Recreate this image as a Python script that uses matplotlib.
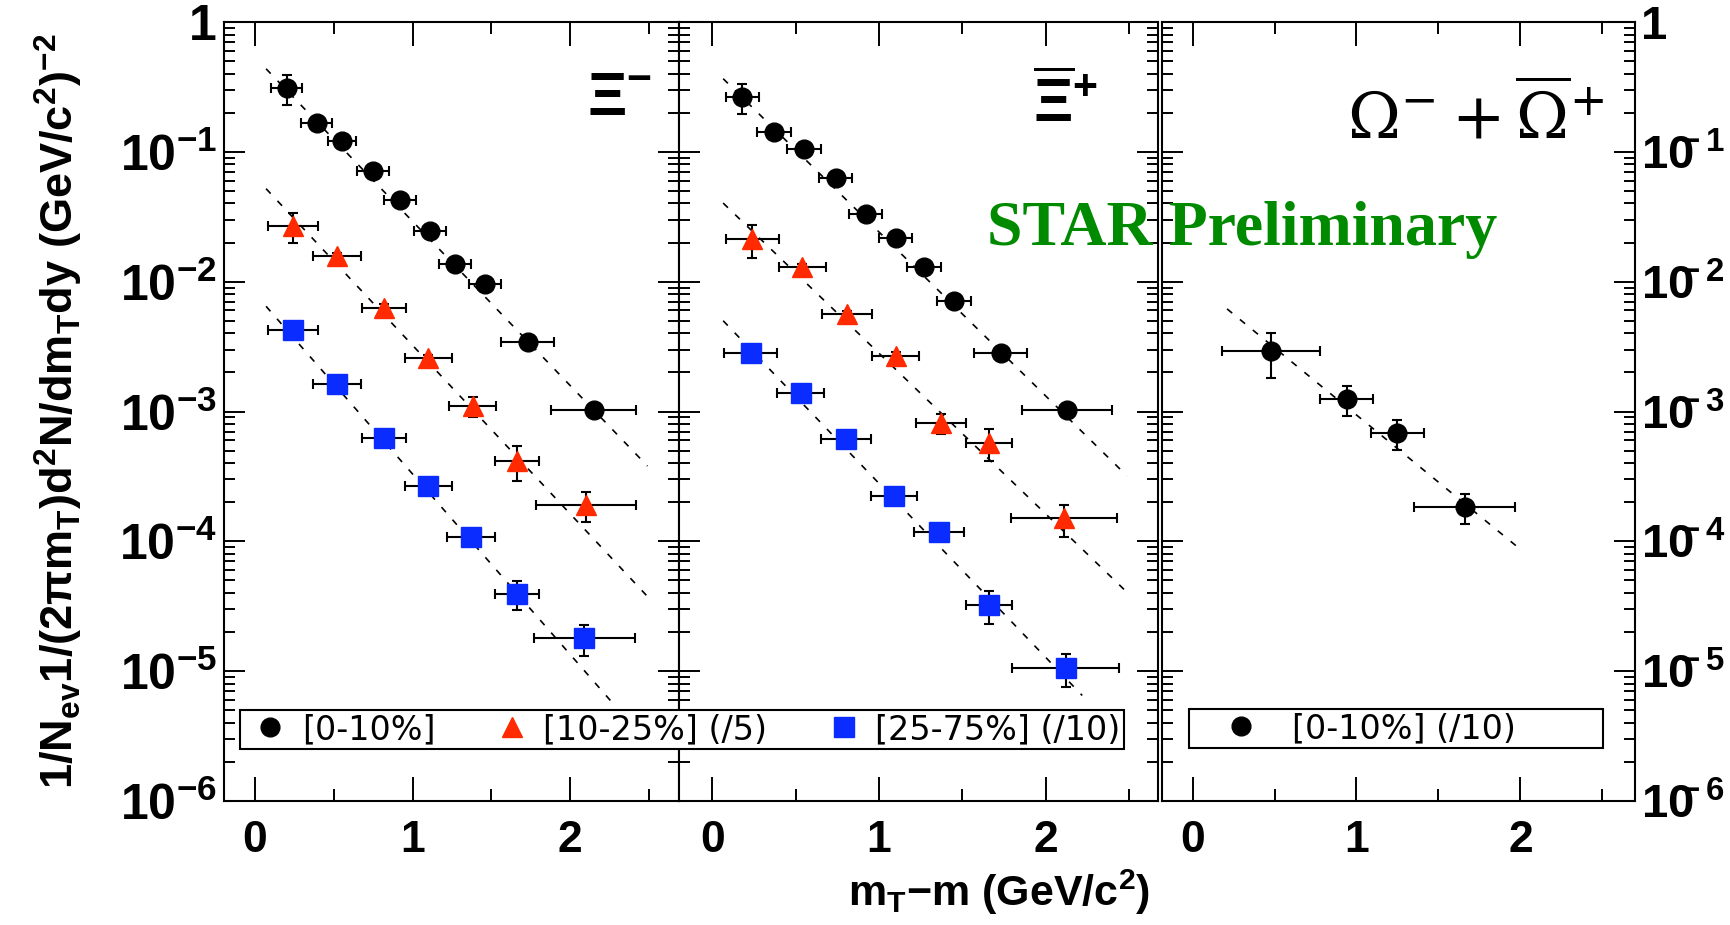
import numpy as np
import matplotlib
matplotlib.use("Agg")
import matplotlib.pyplot as plt
from matplotlib.ticker import (LogLocator, FixedLocator, FuncFormatter,
                               NullFormatter)
from matplotlib.lines import Line2D

plt.rcParams["font.family"] = ["Liberation Sans", "DejaVu Sans"]
plt.rcParams["font.weight"] = "bold"
plt.rcParams["mathtext.fontset"] = "custom"
plt.rcParams["mathtext.rm"] = "Liberation Sans"
plt.rcParams["mathtext.bf"] = "Liberation Sans:bold"
plt.rcParams["mathtext.it"] = "Liberation Sans:italic"
plt.rcParams["mathtext.default"] = "bf"

# ---- Xi- panel ----  (rel = relative y error)
xim_c0_x = [0.20, 0.39, 0.55, 0.75, 0.92, 1.11, 1.27, 1.46, 1.73, 2.15]
xim_c0_xerr = [0.10, 0.10, 0.09, 0.10, 0.10, 0.10, 0.10, 0.10, 0.17, 0.27]
xim_c0_y = [0.310, 0.166, 0.121, 0.0714, 0.0422, 0.0244, 0.0136, 0.0096, 0.00342, 0.00102]
xim_c0_rel = [0.26, 0.05, 0.05, 0.05, 0.05, 0.05, 0.05, 0.05, 0.06, 0.06]

xim_c1_x = [0.24, 0.52, 0.82, 1.10, 1.38, 1.66, 2.10]
xim_c1_xerr = [0.16, 0.15, 0.14, 0.15, 0.15, 0.14, 0.32]
xim_c1_y = [0.0270, 0.0158, 0.0063, 0.00256, 0.00110, 4.17e-4, 1.89e-4]
xim_c1_rel = [0.26, 0.06, 0.06, 0.06, 0.17, 0.30, 0.26]

xim_c2_x = [0.24, 0.52, 0.82, 1.10, 1.37, 1.66, 2.09]
xim_c2_xerr = [0.16, 0.15, 0.14, 0.15, 0.15, 0.14, 0.32]
xim_c2_y = [0.00426, 0.00163, 6.26e-4, 2.65e-4, 1.08e-4, 3.94e-5, 1.79e-5]
xim_c2_rel = [0.05, 0.05, 0.06, 0.06, 0.08, 0.25, 0.27]

# fit lines (start / end)
xim_fit_x = [0.07, 2.49]
xim_c0_fit = [0.436, 3.8e-4]
xim_c1_fit = [0.052, 3.76e-5]
xim_c2_fit_x = [0.07, 2.27]
xim_c2_fit = [6.46e-3, 5.66e-6]

# ---- anti-Xi+ panel ----
xip_c0_x = [0.18, 0.37, 0.55, 0.74, 0.92, 1.10, 1.27, 1.45, 1.73, 2.13]
xip_c0_xerr = [0.10, 0.10, 0.10, 0.10, 0.10, 0.10, 0.10, 0.10, 0.16, 0.27]
xip_c0_y = [0.265, 0.142, 0.106, 0.0624, 0.0333, 0.0217, 0.0130, 0.0071, 0.00283, 0.00102]
xip_c0_rel = [0.26, 0.05, 0.05, 0.05, 0.05, 0.05, 0.05, 0.05, 0.06, 0.06]

xip_c1_x = [0.24, 0.54, 0.81, 1.10, 1.37, 1.66, 2.11]
xip_c1_xerr = [0.16, 0.14, 0.15, 0.14, 0.15, 0.14, 0.32]
xip_c1_y = [0.0213, 0.0129, 0.00562, 0.00269, 8.15e-4, 5.77e-4, 1.50e-4]
xip_c1_rel = [0.28, 0.06, 0.06, 0.06, 0.17, 0.28, 0.28]

xip_c2_x = [0.23, 0.53, 0.80, 1.09, 1.36, 1.66, 2.12]
xip_c2_xerr = [0.16, 0.14, 0.15, 0.14, 0.15, 0.14, 0.32]
xip_c2_y = [0.00283, 0.00140, 6.15e-4, 2.22e-4, 1.19e-4, 3.21e-5, 1.05e-5]
xip_c2_rel = [0.06, 0.05, 0.05, 0.06, 0.08, 0.28, 0.28]

xip_fit_x = [0.065, 2.49]
xip_c0_fit = [0.366, 3.18e-4]
xip_c1_fit = [0.0403, 4.04e-5]
xip_c2_fit_x = [0.065, 2.22]
xip_c2_fit = [5.0e-3, 6.5e-6]

# ---- Omega panel ----
om_x = [0.48, 0.94, 1.25, 1.66]
om_xerr = [0.30, 0.16, 0.16, 0.31]
om_y = [0.00294, 0.00124, 6.78e-4, 1.83e-4]
om_rel = [0.38, 0.26, 0.26, 0.26]
om_fit_x = [0.21, 1.99]
om_fit = [0.00617, 8.9e-5]

y_decades = [1e-6, 1e-5, 1e-4, 1e-3, 1e-2, 1e-1, 1]
cent_labels = ["[0-10%]", "[10-25%] (/5)", "[25-75%] (/10)"]
om_label = "[0-10%] (/10)"

RED = "#ff2a00"
BLUE = "#0a2cff"

fig = plt.figure(figsize=(17.3, 9.25), dpi=100)
bot, hgt = 124 / 925, 779 / 925
ax1 = fig.add_axes([224 / 1730, bot, 455 / 1730, hgt])
ax2 = fig.add_axes([679 / 1730, bot, 479 / 1730, hgt])
ax3 = fig.add_axes([1162 / 1730, bot, 473 / 1730, hgt])


def ylab(v, pos):
    e = int(round(np.log10(v)))
    return "1" if e == 0 else r"$10^{%d}$" % e


def ylab_right(v, pos):
    # ROOT squeezes the exponent over the "0" on the right-hand axis
    e = int(round(np.log10(v)))
    return "1" if e == 0 else r"$10^{\!\!\!\!%d}$" % e


def setup(ax, xlim):
    ax.set_yscale("log")
    ax.set_ylim(1e-6, 1)
    ax.set_xlim(*xlim)
    ax.xaxis.set_major_locator(FixedLocator([0, 1, 2]))
    ax.xaxis.set_minor_locator(FixedLocator([0.5, 1.5, 2.5]))
    ax.xaxis.set_major_formatter(FuncFormatter(lambda v, p: "%g" % v))
    ax.yaxis.set_major_locator(FixedLocator(y_decades))
    ax.yaxis.set_minor_locator(LogLocator(base=10, subs=np.arange(2, 10), numticks=20))
    ax.yaxis.set_major_formatter(FuncFormatter(ylab))
    ax.yaxis.set_minor_formatter(NullFormatter())
    ax.tick_params(which="both", direction="in", top=True, right=True, width=1.4)
    ax.tick_params(axis="x", which="major", length=17, labelsize=32, pad=14)
    ax.tick_params(axis="x", which="minor", length=8.5)
    ax.tick_params(axis="y", which="major", length=15, labelsize=36, pad=5)
    ax.tick_params(axis="y", which="minor", length=8)
    for s in ax.spines.values():
        s.set_linewidth(1.5)


def draw(ax, x, xerr, y, rel, marker, color, ms):
    y = np.array(y)
    dy = y * np.array(rel)
    ax.errorbar(x, y, xerr=xerr, yerr=[dy, dy], fmt=marker, ms=ms, color=color,
                mec=color, ecolor="black", elinewidth=1.5, capsize=3.6,
                capthick=1.5, zorder=3)


def fit(ax, x, y):
    ax.plot(x, y, color="black", lw=1.2, ls=(0, (4, 6)), zorder=2)


setup(ax1, (-0.197, 2.69))
setup(ax2, (-0.20, 2.675))
setup(ax3, (-0.187, 2.70))
ax1.tick_params(axis="y", labelleft=True, labelright=False)
ax2.tick_params(axis="y", labelleft=False, labelright=False)
ax3.tick_params(axis="y", which="major", labelleft=False, labelright=True,
                pad=4, labelsize=34)
ax3.yaxis.set_major_formatter(FuncFormatter(ylab_right))

fit(ax1, xim_fit_x, xim_c0_fit)
fit(ax1, xim_fit_x, xim_c1_fit)
fit(ax1, xim_c2_fit_x, xim_c2_fit)
draw(ax1, xim_c0_x, xim_c0_xerr, xim_c0_y, xim_c0_rel, "o", "black", 13.5)
draw(ax1, xim_c1_x, xim_c1_xerr, xim_c1_y, xim_c1_rel, "^", RED, 14)
draw(ax1, xim_c2_x, xim_c2_xerr, xim_c2_y, xim_c2_rel, "s", BLUE, 14.5)

fit(ax2, xip_fit_x, xip_c0_fit)
fit(ax2, xip_fit_x, xip_c1_fit)
fit(ax2, xip_c2_fit_x, xip_c2_fit)
draw(ax2, xip_c0_x, xip_c0_xerr, xip_c0_y, xip_c0_rel, "o", "black", 13.5)
draw(ax2, xip_c1_x, xip_c1_xerr, xip_c1_y, xip_c1_rel, "^", RED, 14)
draw(ax2, xip_c2_x, xip_c2_xerr, xip_c2_y, xip_c2_rel, "s", BLUE, 14.5)

fit(ax3, om_fit_x, om_fit)
draw(ax3, om_x, om_xerr, om_y, om_rel, "o", "black", 13.5)

ax1.text(0.87, 0.90, r"$\Xi^{-}$", transform=ax1.transAxes, fontsize=44,
         ha="center", va="center")
ax2.text(0.806, 0.893, r"$\overline{\Xi}^{+}$", transform=ax2.transAxes,
         fontsize=44, ha="center", va="center")
ax3.text(0.662, 0.877, r"$\mathregular{\Omega^{-}+\overline{\Omega}^{+}}$",
         transform=ax3.transAxes, fontsize=46, ha="center", va="center",
         family="DejaVu Serif", fontweight="normal")

leg_prop = {"family": "DejaVu Sans", "weight": "normal", "size": 24}
h = [Line2D([], [], ls="none", marker="o", color="black", ms=13.5),
     Line2D([], [], ls="none", marker="^", color=RED, ms=14),
     Line2D([], [], ls="none", marker="s", color=BLUE, ms=14.5)]
leg = fig.legend(h, cent_labels, loc="center", ncol=3, mode="expand",
                 bbox_to_anchor=(240 / 1730, 1 - 754 / 925, 884 / 1730, 49 / 925),
                 borderaxespad=0, borderpad=0.1, handlelength=1.6,
                 handletextpad=0.15, frameon=True, fancybox=False,
                 edgecolor="black", framealpha=1, prop=leg_prop)
leg.get_frame().set_linewidth(1.5)

leg3 = ax3.legend([Line2D([], [], ls="none", marker="o", color="black", ms=13.5)],
                  [om_label], loc="center", mode="expand",
                  bbox_to_anchor=(0.057, 0.0642, 0.875, 0.0578),
                  borderaxespad=0, borderpad=0.1, handlelength=2.9,
                  handletextpad=0.1, frameon=True, fancybox=False,
                  edgecolor="black", framealpha=1, prop=leg_prop)
leg3.get_frame().set_linewidth(1.5)

fig.text(987 / 1730, 1 - 245 / 925, "STAR Preliminary", color="#008a00",
         fontsize=46, family="Liberation Serif", weight="bold",
         ha="left", va="baseline")

fig.text(0.034, 0.555,
         r"1/N$_{ev}$1/(2$\pi$m$_{T}$)d$^{2}$N/dm$_{T}$dy (GeV/c$^{2}$)$^{-2}$",
         rotation=90, ha="center", va="center", fontsize=32.5)
fig.text(0.5775, 1 - 906 / 925, r"m$_{T}$$-$m (GeV/c$^{2}$)", fontsize=31,
         ha="center", va="baseline")

fig.savefig("out.png", dpi=100)
